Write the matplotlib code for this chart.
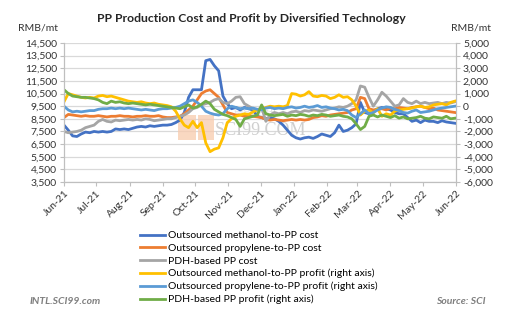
import matplotlib
matplotlib.use('Agg')
import matplotlib.pyplot as plt
import matplotlib.dates as mdates
from matplotlib.ticker import FuncFormatter
from matplotlib.patches import Rectangle
import pandas as pd

plt.rcParams['font.family'] = ['Lato', 'DejaVu Sans']
plt.rcParams['axes.unicode_minus'] = False

# one reading every 4 days, Jun 1 2021 .. May 31 2022
dates = pd.date_range('2021-06-01', periods=92, freq='4D')

# left axis, RMB/mt
methanol_cost = [8000, 7600, 7150, 7100, 7300, 7450, 7400, 7500, 7450, 7500,
                 7450, 7500, 7700, 7650, 7700, 7650, 7750, 7850, 7900, 7850,
                 7950, 7900, 7950, 8000, 8000, 8050, 8200, 8400, 9000, 10200,
                 10800, 10800, 10800, 13100, 13200, 12700, 12300, 10300, 9700, 9300,
                 9400, 9200, 9400, 9300, 9200, 8700, 8600, 8500, 8600, 8500,
                 8300, 8000, 7600, 7200, 7000, 6900, 7000, 7050, 6950, 7100,
                 7300, 7200, 7100, 7400, 8000, 7500, 7600, 7800, 8100, 9800,
                 9000, 8900, 9100, 9300, 9400, 9300, 9200, 9000, 8900, 8900,
                 8600, 8300, 8400, 8200, 8400, 8300, 8300, 8200, 8350, 8250,
                 8200, 8150]
propylene_cost = [8600, 8850, 8800, 8750, 8700, 8750, 8700, 8700, 8750, 8700,
                  8650, 8700, 8700, 8750, 8700, 8700, 8650, 8700, 8700, 8750,
                  8700, 8700, 8750, 8650, 8600, 8600, 8650, 8700, 8900, 9200,
                  9500, 10000, 10500, 10700, 10800, 10500, 10200, 9600, 9000, 8900,
                  8800, 8800, 8700, 8750, 8700, 8650, 8600, 8450, 8400, 8450,
                  8400, 8350, 8400, 8450, 8400, 8450, 8400, 8450, 8600, 8650,
                  8750, 8700, 8800, 8850, 8900, 8950, 9000, 9200, 9300, 10200,
                  10100, 9300, 9200, 9250, 9300, 9200, 9350, 9300, 9400, 9350,
                  9300, 9400, 9450, 9500, 9400, 9300, 9350, 9200, 9150, 9100,
                  9050, 9000]
pdh_cost = [7500, 7400, 7450, 7500, 7600, 7800, 7900, 8000, 8300, 8450,
            8300, 8250, 8400, 8350, 8400, 8450, 8400, 8450, 8400, 8500,
            8450, 8350, 8400, 8450, 8500, 8500, 8600, 8700, 8800, 9000,
            9300, 9400, 9600, 9700, 9800, 10000, 10100, 9800, 9700, 9900,
            10200, 10250, 9700, 9500, 9300, 9200, 9400, 8300, 8800, 9000,
            8900, 9000, 8900, 9050, 9100, 9000, 9150, 9100, 9200, 9150,
            9100, 9200, 9300, 9350, 9450, 9400, 9500, 9700, 10000, 11100,
            11000, 10200, 9500, 10000, 10600, 10300, 9900, 9500, 9600, 10100,
            9800, 9700, 9900, 9700, 9800, 9700, 9750, 9800, 9700, 9800,
            9750, 9850]

# right axis, RMB/mt
methanol_profit = [350, 1000, 900, 800, 700, 650, 700, 650, 800, 850,
                   750, 800, 700, 600, 500, 400, 350, 300, 350, 250,
                   200, 250, 150, 100, 50, -50, -400, -1000, -1500, -1700,
                   -1200, -1700, -1300, -2900, -3600, -3400, -3300, -2500, -1300, -1000,
                   -800, -700, -600, -650, -450, -300, -200, -100, 0, -50,
                   0, -50, 50, 1000, 950, 800, 900, 1150, 800, 750,
                   850, 800, 600, 700, 900, 700, 750, 500, 0, -700,
                   -400, -300, -550, -200, -800, -600, -700, -400, -300, -250,
                   -200, -150, -50, 0, -100, -50, 100, 150, 200, 100,
                   300, 400]
propylene_profit = [0, -300, -450, -400, -450, -400, -350, -350, -250, -200,
                    -200, -150, -200, -150, -200, -150, -200, -250, -300, -250,
                    -300, -350, -250, -200, -200, -150, -100, 0, 200, 400,
                    500, 300, 0, -400, -550, -650, -700, -600, -200, 0,
                    -100, -200, -150, -200, -150, -250, -300, -150, -100, -200,
                    -150, -200, -100, -50, -150, -100, 0, -100, -50, 50,
                    -100, -50, -150, -200, -300, -250, -350, -700, -900, -600,
                    -300, -600, -500, -300, -150, -50, -100, -250, -350, -500,
                    -550, -400, -300, -500, -450, -400, -300, -200, -150, -100,
                    -50, 0]
pdh_profit = [1300, 1000, 800, 750, 700, 700, 650, 600, 500, 300,
              200, 400, 300, 350, 250, 200, 250, 200, 150, 100,
              150, 100, 50, 0, -50, -100, -150, -200, -50, 100,
              -150, -50, 150, 400, 200, -250, -450, -650, -750, -900,
              -1050, -1600, -1000, -900, -800, -700, 100, -600, -700, -750,
              -700, -650, -800, -700, -750, -650, -700, -800, -700, -750,
              -650, -700, -800, -750, -700, -800, -850, -1000, -1400, -1850,
              -1600, -800, -700, -850, -700, -800, -900, -750, -950, -850,
              -1000, -950, -900, -800, -950, -1000, -850, -900, -950, -800,
              -1000, -950]

left_ticks = list(range(3500, 14501, 1000))
right_ticks = list(range(-6000, 5001, 1000))

fig = plt.figure(figsize=(5.18, 3.24), dpi=100)
ax = fig.add_axes([64/518, 1 - 182/324, 392/518, 139/324])
ax2 = ax.twinx()

# watermark
ax.add_patch(Rectangle((0.291, 0.30), 0.046, 0.18, transform=ax.transAxes,
                       color='#f8cbad', alpha=0.75, lw=0, zorder=1))
ax.add_patch(Rectangle((0.343, 0.30), 0.040, 0.18, transform=ax.transAxes,
                       color='#f8cbad', alpha=0.75, lw=0, zorder=1))
ax.text(0.385, 0.37, 'SCI99.COM', transform=ax.transAxes, family='Liberation Serif',
        fontsize=13, color='#cfcfcf', va='center', zorder=1)
ax.text(0.43, 0.50, '卓创资讯', transform=ax.transAxes, family='Noto Sans CJK SC',
        fontsize=8, color='#e2e2e2', va='center', zorder=1)

lw = 2.0
l1, = ax.plot(dates, methanol_cost, color='#4472C4', lw=lw, zorder=3,
              label='Outsourced methanol-to-PP cost')
l2, = ax.plot(dates, propylene_cost, color='#ED7D31', lw=lw, zorder=3,
              label='Outsourced propylene-to-PP cost')
l3, = ax.plot(dates, pdh_cost, color='#A5A5A5', lw=lw, zorder=3,
              label='PDH-based PP cost')
l4, = ax2.plot(dates, methanol_profit, color='#FFC000', lw=lw,
               label='Outsourced methanol-to-PP profit (right axis)')
l5, = ax2.plot(dates, propylene_profit, color='#5B9BD5', lw=lw,
               label='Outsourced propylene-to-PP profit (right axis)')
l6, = ax2.plot(dates, pdh_profit, color='#70AD47', lw=lw,
               label='PDH-based PP profit (right axis)')

ax.set_ylim(3500, 14500)
ax2.set_ylim(-6000, 5000)
ax.set_yticks(left_ticks)
ax2.set_yticks(right_ticks)
fmt = FuncFormatter(lambda v, p: f'{v:,.0f}')
ax.yaxis.set_major_formatter(fmt)
ax2.yaxis.set_major_formatter(fmt)
ax.set_xlim(pd.Timestamp('2021-06-01'), pd.Timestamp('2022-06-01'))
ax.xaxis.set_major_locator(mdates.MonthLocator())
ax.xaxis.set_major_formatter(mdates.DateFormatter('%b-%y'))

ax.yaxis.grid(True, color='#d9d9d9', lw=0.9)
ax.set_axisbelow(True)

for a in (ax, ax2):
    a.spines['top'].set_visible(False)
    for s in ('left', 'right', 'bottom'):
        a.spines[s].set_color('#bfbfbf')
    a.tick_params(axis='both', length=3, color='#bfbfbf', labelsize=7.5,
                  labelcolor='#333333', pad=2)

for lab in ax.get_xticklabels():
    lab.set_rotation(45)
    lab.set_ha('right')
    lab.set_rotation_mode('anchor')

fig.text(251/518, 1 - 18/324, 'PP Production Cost and Profit by Diversified Technology',
         ha='center', va='center', fontsize=8.8, fontweight='bold', color='#262626')
fig.text(18/518, 1 - 28/324, 'RMB/mt', ha='left', va='center', fontsize=7.5, color='#333333')
fig.text(451/518, 1 - 28/324, 'RMB/mt', ha='left', va='center', fontsize=7.5, color='#333333')

fig.legend([l1, l2, l3, l4, l5, l6], [l.get_label() for l in (l1, l2, l3, l4, l5, l6)],
           loc='upper left', bbox_to_anchor=(140/518, 1 - 231/324), frameon=False,
           fontsize=7.5, handlelength=2.4, handletextpad=0.3, labelspacing=0.32,
           borderaxespad=0, borderpad=0)

fig.text(30/518, 1 - 301/324, 'INTL.SCI99.com', ha='left', va='center', fontsize=7.5,
         fontweight='bold', style='italic', color='#7f7f7f')
fig.text(486/518, 1 - 301/324, 'Source: SCI', ha='right', va='center', fontsize=7.5,
         fontweight='bold', style='italic', color='#7f7f7f')

fig.savefig('out.png', dpi=100)
